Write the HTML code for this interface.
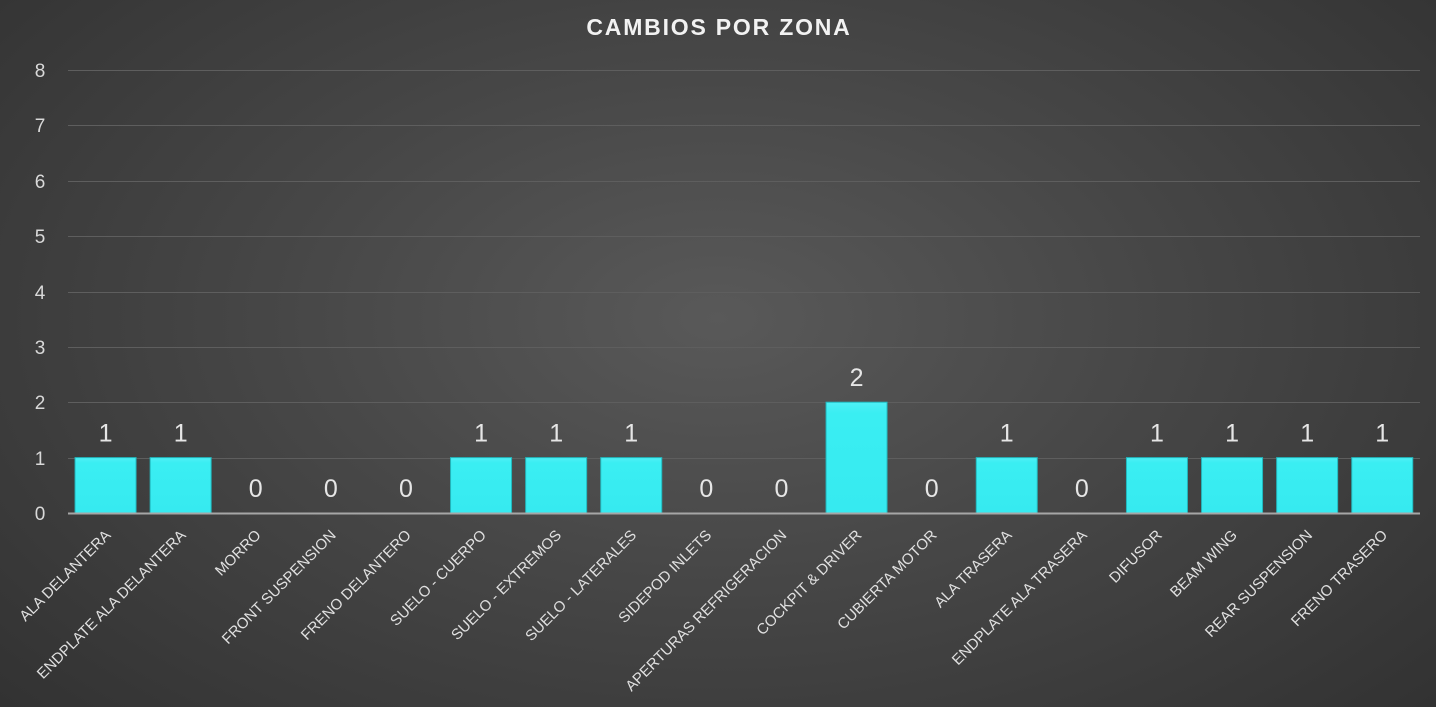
<!DOCTYPE html>
<html><head><style>
html,body{margin:0;padding:0;width:1436px;height:707px;overflow:hidden;}
body{background:radial-gradient(ellipse 75% 90% at 50% 45%,#595959 0%,#474747 40%,#2e2e2e 100%);font-family:"Liberation Sans",sans-serif;}
</style></head><body>
<svg width="1436" height="707" xmlns="http://www.w3.org/2000/svg" font-family="Liberation Sans, sans-serif">
<defs>
<linearGradient id="g" x1="0" y1="0" x2="0" y2="1"><stop offset="0" stop-color="#4ef0f6"/><stop offset="0.1" stop-color="#3aeef2"/><stop offset="1" stop-color="#36eaf0"/></linearGradient>
</defs>
<text x="719" y="35" text-anchor="middle" fill="#f2f2f2" font-size="23" font-weight="bold" letter-spacing="1.8">CAMBIOS POR ZONA</text>
<g stroke="#5e5e5e" stroke-width="1">
<line x1="68" x2="1420" y1="70.5" y2="70.5"/><line x1="68" x2="1420" y1="125.5" y2="125.5"/>
<line x1="68" x2="1420" y1="181.5" y2="181.5"/><line x1="68" x2="1420" y1="236.5" y2="236.5"/>
<line x1="68" x2="1420" y1="292.5" y2="292.5"/><line x1="68" x2="1420" y1="347.5" y2="347.5"/>
<line x1="68" x2="1420" y1="402.5" y2="402.5"/><line x1="68" x2="1420" y1="458.5" y2="458.5"/>
</g>
<g fill="#d9d9d9" font-size="19" text-anchor="middle">
<text x="40" y="77">8</text><text x="40" y="132">7</text><text x="40" y="188">6</text><text x="40" y="243">5</text><text x="40" y="299">4</text><text x="40" y="354">3</text><text x="40" y="409">2</text><text x="40" y="465">1</text><text x="40" y="520">0</text>
</g>
<g id="bars"></g>
<line x1="68" x2="1420" y1="513.5" y2="513.5" stroke="#a6a6a6" stroke-width="2"/>
<g id="vals" fill="#e6e6e6" font-size="25" text-anchor="middle"></g>
<g id="cats" fill="#e0e0e0" font-size="15" text-anchor="end"></g>
</svg>
<script>
var names=["ALA DELANTERA","ENDPLATE ALA DELANTERA","MORRO","FRONT SUSPENSION","FRENO DELANTERO","SUELO - CUERPO","SUELO  - EXTREMOS","SUELO - LATERALES","SIDEPOD INLETS","APERTURAS REFRIGERACION","COCKPIT & DRIVER","CUBIERTA MOTOR","ALA TRASERA","ENDPLATE ALA TRASERA","DIFUSOR","BEAM WING","REAR SUSPENSION","FRENO TRASERO"];
var v=[1,1,0,0,0,1,1,1,0,0,2,0,1,0,1,1,1,1];
var ns="http://www.w3.org/2000/svg";
var b=document.getElementById("bars"),vl=document.getElementById("vals"),c=document.getElementById("cats");
var unit=55.4,base=513;
for(var i=0;i<18;i++){
 var cx=68+75.1*(i+0.5);
 if(v[i]>0){
  var h=v[i]*unit,r=document.createElementNS(ns,"rect");
  r.setAttribute("x",cx-30.5);r.setAttribute("y",base-h);r.setAttribute("width",61);r.setAttribute("height",h);
  r.setAttribute("fill","url(#g)");r.setAttribute("stroke","#22b8be");r.setAttribute("stroke-width","1");b.appendChild(r);
 }
 var t=document.createElementNS(ns,"text");t.setAttribute("x",cx);t.setAttribute("y",base-v[i]*unit-16);t.textContent=v[i];vl.appendChild(t);
 var l=document.createElementNS(ns,"text");var lx=cx+6,ly=536;
 l.setAttribute("x",lx);l.setAttribute("y",ly);l.setAttribute("transform","rotate(-45 "+lx+" "+ly+")");l.textContent=names[i];c.appendChild(l);
}
</script>
</body></html>
